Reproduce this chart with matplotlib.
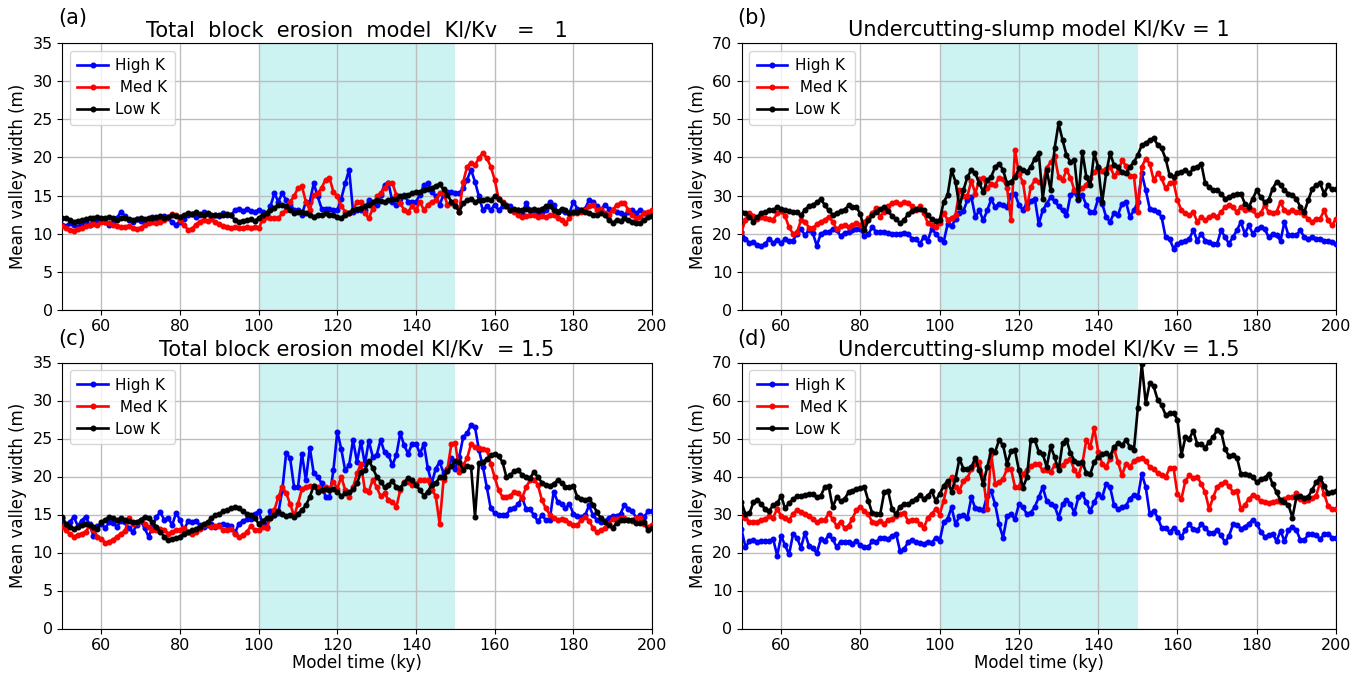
import numpy as np
import matplotlib
matplotlib.use('Agg')
import matplotlib.pyplot as plt

# ---------------- data (mean valley width, m) sampled every 1 ky from 50 ky ----------------
START_KY = 50
series_labels = ['High K', ' Med K', 'Low K']
series_colors = ['blue', 'red', 'black']

# (a) Total block erosion model, Kl/Kv = 1
a_high = [11.2, 11.0, 11.4, 11.1, 10.9, 11.3, 11.6, 11.2, 11.5, 11.8, 11.9, 11.5, 11.2, 11.6, 12.1, 12.9, 12.3, 11.8, 11.5, 11.9,
          11.7, 11.4, 11.8, 12.2, 12.0, 11.8, 12.3, 12.1, 11.5, 11.2, 11.6, 11.9, 12.4, 12.6, 12.2, 12.5, 12.8, 12.6, 12.3, 12.5,
          12.3, 12.7, 12.5, 12.4, 13.1, 13.3, 13.0, 13.2, 13.0, 12.9,
          13.1, 12.8, 12.5, 13.6, 15.3, 14.2, 15.3, 14.4, 13.8, 13.1, 13.1, 12.5, 14.2, 14.2, 16.6, 14.9, 13.3, 13.3, 13.3, 13.1,
          13.1, 14.6, 16.6, 18.4, 12.9, 13.1, 13.1, 13.1, 14.4, 14.0, 13.8, 15.1, 16.4, 16.6, 14.2, 13.8, 14.0, 15.1, 14.2, 14.2,
          14.2, 15.1, 16.4, 16.6, 15.5, 14.9, 13.8, 15.1, 15.5, 15.5, 15.3,
          15.3, 16.0, 17.1, 18.4, 16.8, 14.9, 13.1, 13.6, 13.1, 13.8, 13.1, 13.6, 13.8, 13.6, 13.1, 13.1, 12.7, 14.0, 13.1, 12.9,
          12.7, 12.9, 13.1, 14.2, 13.8, 12.9, 13.1, 12.9, 12.7, 14.2, 13.3, 13.1, 13.3, 14.4, 14.2, 13.6, 13.1, 13.8, 13.3, 13.1,
          12.9, 12.7, 12.5, 12.9, 13.1, 12.7, 13.1, 12.7, 12.5, 12.9]
a_med = [11.0, 10.8, 10.5, 10.4, 10.6, 10.8, 11.0, 11.1, 11.3, 11.2, 11.5, 11.6, 11.4, 11.2, 11.0, 10.9, 10.9, 11.0, 10.7, 10.6,
         10.7, 11.2, 11.4, 11.5, 11.4, 11.6, 11.8, 12.2, 12.6, 12.4, 11.8, 11.2, 10.5, 10.6, 11.2, 11.6, 11.8, 11.7, 11.9, 11.6,
         11.3, 11.0, 10.9, 10.8, 10.9, 10.8, 10.7, 10.9, 10.8, 10.9,
         10.7, 11.8, 12.2, 12.0, 12.0, 12.0, 12.7, 13.1, 14.2, 14.9, 16.0, 16.2, 14.2, 13.1, 15.1, 15.3, 16.0, 17.1, 17.3, 15.5,
         14.9, 13.6, 12.9, 12.7, 13.1, 14.2, 14.2, 12.7, 12.0, 13.3, 14.9, 15.3, 16.0, 16.6, 16.6, 15.1, 14.0, 13.1, 12.9, 13.6,
         13.1, 14.2, 13.1, 13.8, 14.2, 14.4, 15.3, 15.3, 13.8, 14.0, 14.3,
         12.9, 16.8, 18.8, 19.3, 19.0, 19.9, 20.6, 19.9, 18.8, 17.1, 14.6, 14.2, 13.6, 13.1, 12.9, 12.5, 12.2, 12.3, 12.5, 12.5,
         12.2, 12.3, 12.2, 12.5, 12.5, 12.0, 11.8, 11.4, 12.0, 12.7, 12.7, 12.9, 13.1, 13.6, 13.8, 13.1, 13.3, 12.7, 12.5, 13.1,
         13.8, 14.0, 14.0, 13.1, 12.5, 12.0, 12.2, 12.7, 12.9, 13.1]
a_low = [12.1, 12.0, 11.8, 11.6, 11.7, 11.8, 11.9, 12.0, 12.1, 12.2, 12.0, 12.1, 12.2, 12.0, 11.8, 12.1, 12.0, 11.9, 11.8, 11.9,
         12.0, 11.9, 12.1, 12.0, 12.2, 12.3, 12.1, 12.2, 12.4, 12.3, 12.2, 12.5, 12.7, 12.6, 12.8, 12.6, 12.5, 12.7, 12.5, 12.4,
         12.4, 12.5, 12.6, 12.4, 11.8, 11.6, 11.7, 11.8, 11.9, 11.7,
         12.0, 12.5, 12.7, 13.1, 13.4, 13.8, 13.8, 13.6, 13.1, 12.7, 12.9, 12.9, 12.7, 12.5, 12.2, 12.5, 12.5, 12.7, 12.5, 12.5,
         12.2, 12.1, 12.5, 12.7, 13.1, 13.3, 13.4, 13.6, 13.8, 14.2, 14.4, 14.3, 14.2, 14.4, 14.6, 14.6, 14.9, 15.0, 15.1, 15.3,
         15.5, 15.5, 15.7, 15.8, 16.0, 16.3, 16.5, 15.8, 15.1, 14.2, 13.6,
         12.9, 14.0, 14.4, 14.6, 14.2, 14.4, 14.4, 14.6, 14.4, 14.9, 14.6, 14.0, 13.6, 13.1, 13.3, 13.1, 13.1, 13.3, 13.1, 13.2,
         13.1, 13.3, 13.6, 13.6, 13.1, 12.9, 13.3, 13.1, 12.7, 12.9, 12.9, 13.1, 12.9, 12.7, 12.5, 12.5, 12.7, 12.5, 11.8, 11.4,
         11.8, 11.7, 12.0, 11.8, 11.6, 11.4, 11.4, 11.8, 12.2, 12.3]

# (b) Undercutting-slump model, Kl/Kv = 1
b_high = [20.4, 18.6, 17.6, 17.8, 17.0, 16.7, 17.4, 18.7, 17.6, 18.3, 17.6, 18.6, 18.1, 18.2, 20.0, 21.3, 19.6, 20.9, 20.2, 16.8,
          20.0, 20.4, 20.4, 21.3, 20.9, 19.4, 20.2, 20.4, 20.9, 21.3, 21.3, 19.3, 19.8, 21.8, 20.4, 20.4, 20.4, 20.1, 20.0, 20.0,
          20.0, 20.3, 20.0, 18.7, 18.7, 17.4, 19.1, 18.2, 21.3, 20.0,
          18.7, 17.8, 22.5, 21.9, 23.9, 25.3, 26.0, 28.8, 29.6, 24.4, 26.1, 23.5, 26.1, 29.0, 27.0, 27.9, 27.5, 27.0, 30.1, 30.5,
          27.5, 26.3, 27.9, 28.6, 29.2, 22.6, 26.1, 27.9, 29.5, 28.6, 27.2, 26.1, 24.8, 30.1, 31.0, 28.8, 30.1, 27.5, 25.7, 25.7,
          29.2, 27.9, 24.4, 23.1, 25.5, 25.0, 27.9, 28.3, 24.4, 26.1, 28.3,
          35.8, 31.4, 26.6, 26.1, 25.7, 24.4, 19.1, 18.7, 16.1, 17.4, 17.8, 18.2, 18.7, 20.9, 18.2, 20.0, 18.2, 17.8, 17.4, 17.4,
          20.9, 19.1, 17.4, 19.1, 20.9, 23.1, 20.0, 22.2, 20.0, 21.3, 21.8, 21.3, 19.1, 20.0, 19.6, 18.2, 23.1, 19.6, 19.6, 19.6,
          20.9, 19.1, 18.7, 19.1, 18.7, 18.7, 18.2, 18.2, 17.8, 17.4]
b_med = [20.4, 23.7, 25.5, 24.7, 23.9, 24.4, 24.1, 23.9, 23.7, 25.3, 25.9, 24.6, 21.7, 20.0, 20.4, 23.5, 23.2, 21.6, 21.4, 22.5,
         23.2, 23.6, 24.5, 23.2, 21.2, 21.9, 22.3, 21.8, 22.2, 22.7, 22.4, 23.2, 24.1, 25.4, 26.7, 24.5, 25.8, 27.3, 28.0, 28.4,
         27.8, 28.3, 28.1, 27.2, 26.3, 27.2, 25.4, 22.8, 22.2, 21.8,
         22.8, 25.3, 23.7, 24.2, 24.8, 31.4, 29.8, 29.9, 33.9, 30.5, 34.3, 34.5, 31.9, 33.1, 32.9, 34.6, 34.3, 32.1, 23.5, 42.0,
         35.6, 33.6, 26.7, 32.3, 34.0, 33.6, 33.2, 37.3, 38.7, 40.4, 34.9, 34.0, 36.7, 34.7, 31.4, 31.4, 31.9, 32.8, 34.6, 36.1,
         37.6, 36.5, 36.9, 37.6, 35.2, 36.1, 39.2, 37.8, 35.2, 35.2, 25.7,
         37.5, 39.7, 38.4, 34.0, 35.8, 34.5, 31.9, 33.2, 33.6, 28.8, 26.1, 25.3, 24.8, 25.7, 23.1, 24.4, 23.5, 24.4, 24.8, 24.4,
         25.7, 27.0, 27.5, 27.0, 25.7, 27.0, 26.1, 26.6, 26.1, 24.8, 25.3, 27.5, 25.7, 25.3, 25.7, 28.3, 26.1, 25.7, 26.1, 25.7,
         25.7, 24.8, 23.9, 23.1, 23.9, 23.9, 26.1, 23.5, 22.2, 23.9]
b_low = [25.7, 25.3, 24.4, 23.2, 24.4, 25.4, 25.7, 26.1, 26.1, 27.0, 26.6, 26.1, 26.0, 25.7, 25.7, 24.8, 26.3, 27.2, 27.5, 28.3,
         29.0, 27.6, 26.1, 25.0, 25.3, 26.0, 26.3, 27.4, 27.0, 27.0, 25.1, 20.9, 23.5, 24.8, 25.6, 26.4, 27.0, 25.9, 24.6, 23.8,
         22.8, 23.5, 25.1, 26.0, 26.4, 26.6, 26.1, 24.8, 23.8, 23.4,
         23.5, 28.3, 30.1, 36.7, 33.6, 27.0, 31.4, 34.9, 36.7, 35.8, 33.2, 31.0, 34.0, 34.9, 37.5, 38.4, 36.7, 33.2, 33.6, 34.9,
         37.1, 36.7, 36.2, 37.5, 39.7, 41.1, 29.2, 36.7, 31.4, 42.4, 48.9,
         44.6, 40.6, 38.8, 39.3, 29.2, 41.5, 34.9, 32.7, 41.1, 37.5, 28.3, 35.8, 41.1, 38.0, 37.5, 36.2, 35.8, 37.5, 38.8, 40.6,
         43.3, 43.7, 44.6, 45.0, 43.3, 42.4, 39.7, 35.4, 34.9, 35.8, 36.2, 36.7, 35.8, 37.1, 37.5, 38.4, 33.2, 32.3, 31.4, 31.4,
         30.5, 29.2, 29.6, 30.1, 30.5, 30.5, 27.9, 27.0, 29.2, 31.4, 29.6, 28.3, 28.8, 31.8, 33.6, 32.7, 31.4, 30.5, 30.1, 29.2,
         27.0, 25.7, 28.8, 31.8, 32.7, 33.2, 30.5, 32.7, 31.6, 31.6]

# (c) Total block erosion model, Kl/Kv = 1.5
c_high = [14.5, 13.5, 14.0, 14.7, 13.5, 14.2, 14.7, 13.7, 12.2, 13.5, 13.8, 13.2, 14.0, 13.9, 13.4, 14.2, 14.0, 13.2, 12.7, 13.6,
          14.2, 13.2, 12.1, 13.3, 14.7, 15.3, 14.3, 14.6, 13.6, 15.2, 14.3, 12.9, 14.1, 14.0, 14.2, 13.6, 13.3, 13.6, 13.8, 13.4,
          13.6, 13.8, 13.6, 13.5, 12.6, 13.8, 14.1, 14.4, 14.4, 15.1,
          15.4, 13.8, 13.4, 15.4, 15.0, 15.2, 18.2, 23.1, 22.4, 18.6, 18.6, 23.0, 19.5, 23.8, 20.4, 20.0, 19.1, 17.3, 17.3, 20.8,
          25.9, 23.6, 20.8, 21.5, 24.8, 21.9, 24.6, 21.6, 24.7, 22.6, 22.8, 24.8, 23.2, 22.8, 21.5, 22.8, 25.7, 24.1, 23.0, 24.3,
          24.3, 23.0, 24.3, 21.1, 19.1, 21.0, 21.9, 20.5, 21.0, 22.4, 21.0,
          22.6, 25.2, 25.7, 26.8, 26.5, 23.5, 21.3, 18.6, 15.8, 15.2, 14.9, 15.0, 15.0, 15.7, 15.8, 16.4, 17.2, 15.7, 15.7, 14.9,
          14.1, 14.9, 14.3, 14.3, 18.0, 16.7, 16.4, 15.8, 16.4, 15.1, 14.8, 14.7, 14.9, 16.2, 14.9, 14.3, 14.0, 14.1, 14.6, 14.8,
          14.8, 15.1, 16.3, 15.7, 15.4, 14.6, 14.9, 14.7, 15.4, 15.4]
c_med = [13.4, 12.9, 12.4, 12.1, 12.3, 12.5, 12.7, 13.5, 13.0, 12.1, 11.8, 11.3, 11.4, 11.7, 12.1, 12.5, 12.8, 14.6, 13.7, 13.9,
         14.3, 13.8, 13.4, 13.0, 12.9, 13.1, 13.0, 12.5, 12.7, 12.9, 13.0, 13.2, 12.7, 12.5, 12.7, 13.1, 13.6, 13.8, 13.4, 13.5,
         13.5, 12.9, 12.9, 13.1, 12.5, 12.0, 12.3, 12.7, 13.5, 13.0,
         12.9, 13.4, 13.2, 14.5, 15.6, 17.3, 18.6, 17.8, 16.4, 14.8, 16.4, 18.4, 18.6, 18.8, 18.7, 18.6, 18.2, 18.6, 18.4, 19.3,
         18.4, 20.0, 18.2, 17.3, 18.6, 20.4, 21.7, 18.2, 18.0, 19.6, 18.6, 17.4, 17.8, 16.9, 16.7, 16.0, 18.2, 19.3, 19.3, 18.9,
         19.0, 19.6, 19.5, 19.5, 18.2, 17.5, 13.8, 19.5, 21.0, 24.3, 24.4,
         20.6, 21.5, 22.4, 24.3, 23.9, 23.8, 23.6, 23.5, 21.7, 19.9, 18.2, 17.3, 17.3, 17.5, 18.0, 17.8, 17.2, 18.6, 19.5, 19.6,
         18.9, 16.9, 15.8, 15.0, 14.5, 14.3, 14.4, 14.3, 13.9, 13.6, 13.6, 14.3, 14.7, 14.2, 13.2, 12.7, 12.9, 13.2, 13.8, 14.4,
         14.4, 14.5, 14.5, 14.3, 14.1, 14.5, 14.5, 13.8, 13.4, 13.6]
c_low = [14.7, 13.8, 13.4, 13.1, 13.4, 13.6, 13.8, 13.6, 13.4, 13.1, 14.0, 14.3, 14.7, 14.5, 14.3, 14.5, 14.3, 14.1, 14.0, 14.0,
         14.3, 14.7, 14.5, 14.0, 13.4, 12.7, 12.1, 11.6, 11.8, 11.9, 12.1, 12.5, 12.7, 12.9, 13.1, 13.4, 13.8, 14.0, 14.5, 14.9,
         15.1, 15.4, 15.6, 15.8, 16.0, 15.8, 15.4, 15.1, 14.9, 14.5,
         13.8, 14.2, 14.5, 14.5, 15.0, 15.4, 15.1, 14.8, 15.0, 14.7, 15.1, 15.6, 16.2, 17.3, 18.8, 18.0, 18.2, 18.3, 18.2, 18.3,
         18.0, 17.4, 17.8, 17.9, 18.3, 19.1, 20.6, 20.8, 22.1, 21.1, 20.0, 19.3, 18.6, 18.9, 19.4, 18.6, 18.5, 19.2, 19.8, 19.6,
         18.9, 18.2, 17.5, 18.0, 18.9, 19.1, 19.9, 20.0, 20.7, 21.4, 22.1,
         21.9, 20.8, 21.4, 21.3, 14.7, 21.8, 21.9, 22.3, 22.8, 23.0, 22.7, 21.9, 19.9, 20.2, 20.7, 20.8, 20.2, 19.9, 19.8, 20.6,
         19.9, 19.2, 18.9, 18.8, 19.0, 19.5, 19.1, 18.6, 18.6, 18.8, 17.3, 17.1, 16.9, 17.1, 16.3, 15.3, 14.5, 14.0, 13.6, 13.2,
         13.9, 14.3, 14.3, 14.3, 14.3, 13.9, 13.9, 14.0, 12.9, 13.2]

# (d) Undercutting-slump model, Kl/Kv = 1.5
d_high = [26.1, 21.4, 23.0, 23.2, 22.7, 23.0, 23.0, 23.0, 23.5, 19.2, 24.3, 21.9, 19.5, 24.8, 23.9, 21.2, 25.2, 21.8, 21.1, 19.9,
          23.5, 23.0, 24.6, 23.5, 21.5, 22.8, 22.8, 22.7, 22.3, 23.0, 21.9, 21.4, 21.4, 23.0, 22.7, 23.9, 23.8, 23.6, 24.4, 24.9,
          20.4, 20.8, 22.7, 23.2, 22.7, 22.6, 22.3, 22.8, 22.6, 23.9,
          23.0, 27.9, 28.8, 31.9, 27.4, 29.6, 29.8, 29.2, 34.5, 31.6, 31.4, 31.2, 35.0, 36.1, 32.7, 27.4, 23.9, 29.6, 30.1, 28.8,
          32.7, 31.9, 30.1, 30.5, 32.0, 34.5, 37.2, 33.6, 32.7, 32.3, 29.2, 32.7, 33.9, 32.7, 30.5, 34.5, 35.4, 33.2, 31.0, 33.2,
          35.4, 34.5, 38.1, 37.2, 32.5, 31.4, 31.9, 32.3, 34.2, 35.1, 34.5,
          40.7, 37.2, 30.1, 31.0, 29.2, 26.5, 26.4, 25.4, 26.4, 25.5, 24.1, 26.0, 27.4, 26.1, 25.8, 27.4, 26.5, 25.2, 25.2, 25.8,
          24.5, 22.7, 24.3, 27.4, 27.3, 26.3, 26.7, 27.6, 28.6, 27.6, 25.5, 24.2, 24.5, 25.0, 23.0, 25.7, 23.0, 25.8, 26.8, 25.9,
          23.3, 23.2, 24.8, 24.8, 24.6, 23.5, 24.8, 25.0, 23.9, 23.9]
d_med = [29.6, 29.2, 28.0, 28.1, 28.1, 28.5, 28.8, 29.5, 29.2, 31.5, 29.6, 29.2, 28.5, 30.1, 31.2, 30.7, 30.1, 29.5, 28.8, 27.9,
         28.6, 28.5, 30.3, 28.8, 27.0, 28.1, 26.5, 27.0, 28.9, 31.3, 31.9, 31.0, 30.1, 27.9, 27.8, 28.3, 27.6, 28.5, 28.9, 29.5,
         30.1, 30.5, 28.3, 28.6, 28.5, 27.6, 26.4, 29.2, 30.2, 31.4,
         30.0, 33.6, 38.1, 40.0, 37.2, 36.3, 38.9, 39.6, 42.0, 43.4, 43.8, 39.4, 31.5, 46.0, 38.1, 38.5, 39.4, 42.0, 42.0, 37.2,
         37.2, 40.7, 41.6, 42.7, 43.2, 43.2, 41.6, 41.6, 41.2, 42.9, 42.7, 42.9, 44.1, 44.5, 41.6, 40.3, 43.4, 49.6, 47.8, 52.7,
         46.5, 43.4, 42.5, 44.7, 47.3, 43.8, 40.3, 43.4, 42.5, 44.1, 44.7,
         44.9, 44.1, 42.5, 41.9, 41.0, 40.4, 39.8, 42.2, 42.3, 35.4, 34.1, 38.9, 40.3, 39.6, 39.9, 38.1, 35.8, 31.4, 34.5, 37.2,
         38.1, 38.5, 37.4, 36.0, 36.3, 31.4, 32.5, 34.1, 35.1, 34.5, 33.5, 33.2, 33.1, 33.4, 33.6, 33.2, 34.2, 34.5, 34.5, 35.6,
         34.1, 33.6, 33.8, 34.3, 35.0, 38.5, 35.4, 32.3, 31.4, 31.4]
d_low = [33.2, 30.1, 30.3, 33.2, 33.9, 32.7, 31.4, 31.0, 32.5, 32.9, 34.9, 31.6, 33.0, 34.0, 34.8, 34.8, 35.2, 35.4, 35.4, 34.5,
         34.9, 37.2, 37.4, 31.9, 34.5, 33.6, 34.1, 35.8, 36.3, 36.7, 37.0, 37.2, 33.6, 30.3, 30.1, 30.1, 35.8, 36.1, 31.4, 30.1,
         32.1, 32.7, 32.7, 33.5, 34.1, 35.2, 34.1, 35.0, 36.1, 33.6,
         35.4, 37.5, 38.9, 36.0, 39.4, 44.7, 42.0, 42.0, 42.5, 44.9, 41.6, 38.1, 42.5, 46.9, 46.5, 49.6, 48.2, 43.4, 46.6, 46.9,
         41.6, 37.0, 39.8, 49.6, 49.6, 46.5, 46.0, 42.5, 48.0, 45.1, 41.6, 48.7, 49.6, 46.2, 44.2, 43.5, 43.8, 40.9, 40.7, 43.8,
         45.1, 45.8, 46.2, 45.4, 47.8, 48.7, 48.2, 49.6, 47.8, 46.9, 58.0,
         69.5, 59.3, 64.6, 63.7, 60.2, 58.8, 56.2, 56.6, 56.6, 55.0, 45.6, 50.3, 50.0, 52.0, 48.5, 48.5, 47.6, 49.1, 50.4, 52.2,
         51.8, 47.3, 45.3, 45.6, 45.0, 40.7, 40.7, 40.4, 40.0, 38.5, 39.3, 39.6, 40.7, 38.0, 35.8, 33.8, 33.2, 32.5, 29.2, 34.5,
         34.8, 34.3, 34.7, 36.5, 38.5, 39.6, 37.6, 35.6, 35.8, 36.3]

titles = ['Total  block  erosion  model  Kl/Kv   =   1',
          'Undercutting-slump model Kl/Kv = 1',
          'Total block erosion model Kl/Kv  = 1.5',
          'Undercutting-slump model Kl/Kv = 1.5']
panel_tags = ['(a)', '(b)', '(c)', '(d)']
panel_data = [(a_high, a_med, a_low), (b_high, b_med, b_low),
              (c_high, c_med, c_low), (d_high, d_med, d_low)]
y_limits = [35, 70, 35, 70]
y_steps = [5, 10, 5, 10]
x_ticks = [60, 80, 100, 120, 140, 160, 180, 200]
erosion_window = (100, 150)

# ---------------- figure ----------------
W, H = 1364, 675
fig = plt.figure(figsize=(W / 100, H / 100), dpi=100)


def ax_at(l, t, r, b):
    return fig.add_axes([l / W, 1 - b / H, (r - l) / W, (b - t) / H])


axes = [ax_at(62, 43, 652, 310), ax_at(741.5, 43, 1336, 310),
        ax_at(62, 362.5, 652, 628.5), ax_at(741.5, 362.5, 1336, 628.5)]
tag_pos = [(58, 18), (737, 18), (58, 339), (737, 339)]

for i, ax in enumerate(axes):
    ax.axvspan(*erosion_window, color='c', alpha=0.2, lw=0, zorder=0)
    for vals, col, lab in zip(panel_data[i], series_colors, series_labels):
        t = START_KY + np.arange(len(vals))
        ax.plot(t, vals, '-o', color=col, lw=1.9, ms=3.3, label=lab, zorder=3)
    ax.set_xlim(50, 200)
    ax.set_ylim(0, y_limits[i])
    ax.set_xticks(x_ticks)
    ax.set_yticks(np.arange(0, y_limits[i] + 1, y_steps[i]))
    ax.grid(True, color='#bdbdbd', lw=1.0, zorder=1)
    ax.set_axisbelow(True)
    ax.tick_params(labelsize=11.5, pad=3)
    ax.set_ylabel('Mean valley width (m)', fontsize=12, labelpad=4)
    if i >= 2:
        ax.set_xlabel('Model time (ky)', fontsize=12, labelpad=1)
    ax.set_title(titles[i], fontsize=15, pad=5)
    ax.legend(loc='upper left', fontsize=11, handlelength=2.0, handletextpad=0.5,
              borderpad=0.5, labelspacing=0.45, framealpha=0.8)
    fig.text(tag_pos[i][0] / W, 1 - tag_pos[i][1] / H, panel_tags[i],
             fontsize=15, ha='left', va='center')

fig.savefig('out.png', dpi=100)
